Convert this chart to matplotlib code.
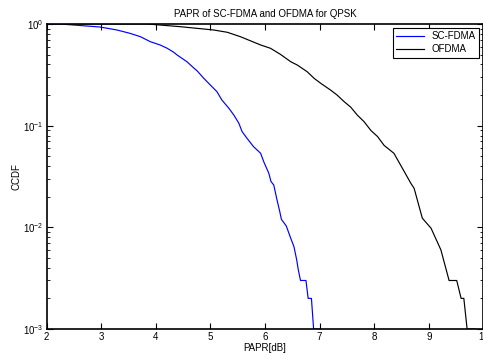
import matplotlib
matplotlib.use("Agg")
import matplotlib.pyplot as plt
from matplotlib.ticker import LogLocator, NullFormatter

plt.rcParams['font.family'] = ['Liberation Sans', 'DejaVu Sans']
plt.rcParams['mathtext.fontset'] = 'custom'
plt.rcParams['mathtext.rm'] = 'Liberation Sans'

# SC-FDMA
sc_papr = [2.0, 2.25, 2.98, 3.29, 3.53, 3.72, 3.90, 4.08, 4.21, 4.33, 4.39, 4.57,
           4.69, 4.76, 4.88, 5.00, 5.12, 5.21, 5.34, 5.43, 5.52, 5.58, 5.67, 5.79,
           5.92, 5.98, 6.07, 6.11, 6.16, 6.22, 6.27, 6.30, 6.39, 6.46, 6.53, 6.58,
           6.61, 6.65, 6.75, 6.79, 6.85, 6.89, 7.0]
sc_ccdf = [1.0, 1.0, 0.934, 0.873, 0.809, 0.750, 0.670, 0.622, 0.577, 0.527, 0.496, 0.426,
           0.372, 0.345, 0.292, 0.251, 0.216, 0.179, 0.148, 0.127, 0.106, 0.0875, 0.0752, 0.0622,
           0.0535, 0.0438, 0.0340, 0.0282, 0.0261, 0.0186, 0.0143, 0.0120, 0.0103, 0.0081, 0.00646, 0.00479,
           0.00381, 0.003, 0.003, 0.002, 0.002, 0.001, 0.001]

# OFDMA
of_papr = [2.0, 3.5, 3.84, 4.0, 4.45, 5.06, 5.31, 5.55, 5.92, 6.10, 6.28, 6.47, 6.59,
           6.77, 6.90, 7.02, 7.20, 7.32, 7.45, 7.57, 7.69, 7.81, 7.94, 8.06, 8.18,
           8.36, 8.55, 8.67, 8.73, 8.88, 9.04, 9.22, 9.37, 9.51, 9.59, 9.64, 9.70, 9.86]
of_ccdf = [1.0, 1.0, 1.0, 0.985, 0.941, 0.873, 0.829, 0.75, 0.622, 0.577, 0.504, 0.426, 0.395,
           0.340, 0.292, 0.261, 0.224, 0.200, 0.172, 0.152, 0.127, 0.110, 0.0895, 0.0782, 0.0640,
           0.0535, 0.0353, 0.0271, 0.0242, 0.0123, 0.0098, 0.0060, 0.003, 0.003, 0.002, 0.002, 0.001, 0.001]

fig = plt.figure(figsize=(4.83, 3.56), dpi=100)
ax = fig.add_axes([46.5 / 483, 1 - 329 / 356, (483.5 - 46.5) / 483, (329 - 24) / 356])

ax.semilogy(sc_papr, sc_ccdf, color='#0000ff', lw=0.85, label='SC-FDMA')
ax.semilogy(of_papr, of_ccdf, color='black', lw=0.85, label='OFDMA')

ax.set_xlim(2, 10)
ax.set_ylim(1e-3, 1)
ax.set_xticks(range(2, 11))
ax.yaxis.set_major_locator(LogLocator(base=10, numticks=10))
ax.yaxis.set_minor_locator(LogLocator(base=10, subs=range(2, 10), numticks=10))
ax.yaxis.set_minor_formatter(NullFormatter())

ax.tick_params(which='both', direction='in', top=True, right=True, labelsize=7, pad=2)
ax.tick_params(which='major', length=4, width=0.8)
ax.tick_params(which='minor', length=2.5, width=0.6)
for s in ax.spines.values():
    s.set_linewidth(1.2)

ax.set_title('PAPR of SC-FDMA and OFDMA for QPSK', fontsize=7, pad=5)
ax.set_xlabel('PAPR[dB]', fontsize=7, labelpad=1)
ax.set_ylabel('CCDF', fontsize=7, labelpad=1)

leg = ax.legend(loc='upper left', bbox_to_anchor=(393 / 483, 1 - 28 / 356),
                bbox_transform=fig.transFigure, fontsize=7, fancybox=False,
                framealpha=1, edgecolor='black', borderpad=0.35, labelspacing=0.3,
                handlelength=2.8, handletextpad=0.8, borderaxespad=0)
leg.get_frame().set_linewidth(0.8)

fig.savefig('out.png', dpi=100)
